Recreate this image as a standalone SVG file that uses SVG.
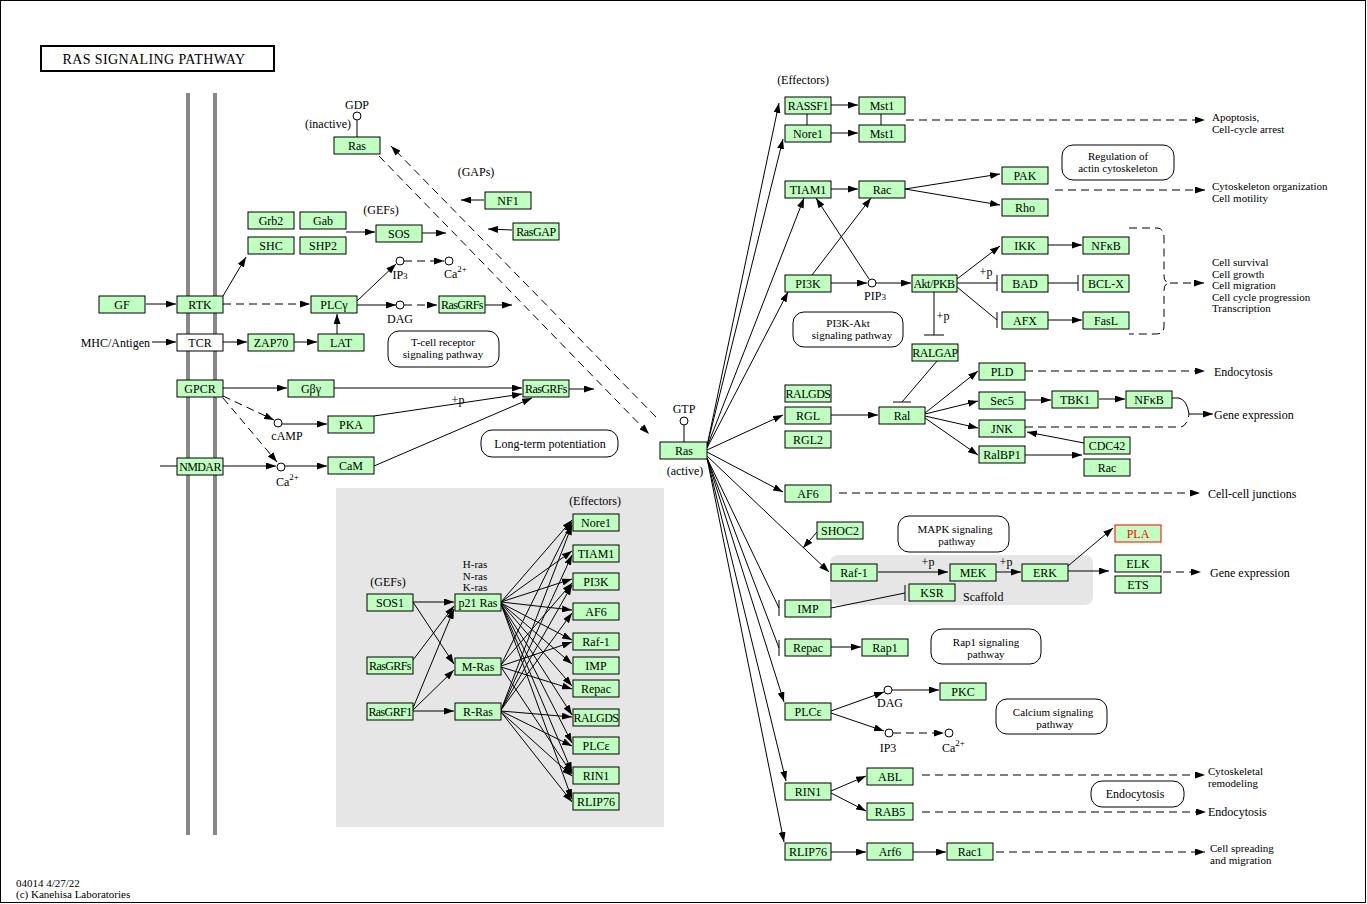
<svg xmlns="http://www.w3.org/2000/svg" width="1367" height="904" viewBox="0 0 1367 904">
<style>
text{font-family:"Liberation Serif","DejaVu Serif",serif;font-size:12px;fill:#000}
.n rect{fill:#bfffbf;stroke:#000;stroke-width:1}
.n text{text-anchor:middle}
.w rect{fill:#fff;stroke:#000}
.m{text-anchor:middle}
.s{font-size:11px}
.c line,.c path,.c polyline{stroke:#000;stroke-width:1;fill:none}
.d{stroke-dasharray:8,5}
.a{marker-end:url(#ah)}
.p rect{fill:#fff;stroke:#000}
circle{fill:#fff;stroke:#000}
</style>
<defs>
<marker id="ah" viewBox="0 0 10 7" refX="10" refY="3.5" markerWidth="10" markerHeight="7" markerUnits="userSpaceOnUse" orient="auto"><path d="M0,0L10,3.5L0,7z" fill="#000"/></marker>
</defs>
<rect x="0.5" y="0.5" width="1365" height="902" fill="#fff" stroke="#000"/>
<rect x="336" y="488" width="328" height="339" fill="#e6e6e6"/>
<rect x="830" y="555" width="263" height="50" rx="8" fill="#e6e6e6"/>
<rect x="186" y="93" width="4" height="742" fill="#888"/>
<rect x="213" y="93" width="4" height="742" fill="#888"/>
<g id="title"><rect x="41" y="46" width="233" height="25" fill="#fff" stroke="#000" stroke-width="2"/><text x="154" y="64" class="m" style="font-size:14px;letter-spacing:0.4px">RAS SIGNALING PATHWAY</text></g>

<g class="c" id="connectors">
<line class="a" x1="146" y1="304" x2="176" y2="304"/>
<line class="a" x1="223" y1="296" x2="246" y2="257"/>
<line class="a d" x1="223" y1="304" x2="310" y2="304"/>
<line class="a" x1="152" y1="342" x2="176" y2="342"/>
<line class="a" x1="223" y1="342" x2="247" y2="342"/>
<line class="a" x1="294" y1="342" x2="317" y2="342"/>
<line class="a" x1="337" y1="334" x2="337" y2="314"/>
<line class="a" x1="357" y1="301" x2="396" y2="264"/>
<line class="a" x1="357" y1="305" x2="396" y2="305"/>
<line class="a d" x1="404" y1="261" x2="444" y2="261"/>
<line class="a d" x1="404" y1="305" x2="437" y2="305"/>
<line class="a" x1="484" y1="305" x2="512" y2="305"/>
<line class="a" x1="346" y1="232" x2="375" y2="232"/>
<line class="a" x1="421" y1="233" x2="446" y2="233"/>
<line class="a" x1="484" y1="200" x2="461" y2="200"/>
<line class="a" x1="512" y1="230" x2="488" y2="229"/>
<line x1="357" y1="120" x2="357" y2="137"/>
<line class="a d" x1="379" y1="156" x2="649" y2="434"/>
<line class="a d" x1="656" y1="417" x2="391" y2="146"/>
<line class="a" x1="223" y1="388" x2="287" y2="388"/>
<line class="a d" x1="223" y1="396" x2="274" y2="420"/>
<line class="a d" x1="223" y1="398" x2="277" y2="462"/>
<line x1="160" y1="466" x2="177" y2="466"/>
<line class="a" x1="223" y1="466" x2="276" y2="466"/>
<line class="a" x1="282" y1="424" x2="327" y2="424"/>
<line class="a" x1="285" y1="466" x2="327" y2="466"/>
<line class="a" x1="334" y1="388" x2="522" y2="388"/>
<line class="a" x1="374" y1="416" x2="522" y2="394"/>
<line class="a" x1="374" y1="466" x2="532" y2="398"/>
<line class="a" x1="569" y1="389" x2="594" y2="389"/>
<line x1="684" y1="425" x2="684" y2="442"/>
<line class="a" x1="413" y1="602" x2="454" y2="602"/>
<line class="a" x1="413" y1="602" x2="454" y2="664"/>
<line class="a" x1="413" y1="660" x2="454" y2="606"/>
<line class="a" x1="413" y1="708" x2="454" y2="609"/>
<line class="a" x1="413" y1="710" x2="454" y2="670"/>
<line class="a" x1="413" y1="711" x2="454" y2="711"/>
<line class="a" x1="501" y1="602" x2="572" y2="520"/>
<line class="a" x1="501" y1="602" x2="572" y2="551"/>
<line class="a" x1="501" y1="602" x2="572" y2="579"/>
<line class="a" x1="501" y1="602" x2="572" y2="610"/>
<line class="a" x1="501" y1="603" x2="572" y2="640"/>
<line class="a" x1="501" y1="603" x2="572" y2="664"/>
<line class="a" x1="501" y1="603" x2="572" y2="686"/>
<line class="a" x1="501" y1="604" x2="572" y2="715"/>
<line class="a" x1="501" y1="604" x2="572" y2="743"/>
<line class="a" x1="501" y1="604" x2="572" y2="772"/>
<line class="a" x1="501" y1="604" x2="572" y2="799"/>
<line class="a" x1="501" y1="665" x2="572" y2="522"/>
<line class="a" x1="501" y1="665" x2="572" y2="583"/>
<line class="a" x1="501" y1="666" x2="572" y2="642"/>
<line class="a" x1="501" y1="667" x2="572" y2="689"/>
<line class="a" x1="501" y1="667" x2="572" y2="774"/>
<line class="a" x1="501" y1="710" x2="572" y2="525"/>
<line class="a" x1="501" y1="710" x2="572" y2="555"/>
<line class="a" x1="501" y1="710" x2="572" y2="585"/>
<line class="a" x1="501" y1="710" x2="572" y2="613"/>
<line class="a" x1="501" y1="711" x2="572" y2="717"/>
<line class="a" x1="501" y1="711" x2="572" y2="746"/>
<line class="a" x1="501" y1="712" x2="572" y2="776"/>
<line class="a" x1="501" y1="712" x2="572" y2="802"/>
<line class="a" x1="707" y1="446" x2="779" y2="103"/>
<line class="a" x1="707" y1="446" x2="783" y2="139"/>
<line class="a" x1="707" y1="447" x2="804" y2="198"/>
<line class="a" x1="707" y1="448" x2="788" y2="292"/>
<line class="a" x1="707" y1="450" x2="783" y2="415"/>
<line class="a" x1="707" y1="452" x2="783" y2="492"/>
<line class="a" x1="707" y1="456" x2="829" y2="572"/>
<line x1="707" y1="458" x2="779" y2="608"/>
<line x1="779" y1="600" x2="779" y2="616"/>
<line x1="707" y1="458" x2="779" y2="648"/>
<line x1="779" y1="640" x2="779" y2="656"/>
<line class="a" x1="707" y1="458" x2="784" y2="702"/>
<line class="a" x1="707" y1="458" x2="786" y2="781"/>
<line class="a" x1="707" y1="458" x2="784" y2="842"/>
<line class="a" x1="817" y1="532" x2="803" y2="548"/>
<line x1="807" y1="114" x2="807" y2="125"/>
<line x1="881" y1="114" x2="881" y2="125"/>
<line class="a" x1="831" y1="105" x2="858" y2="105"/>
<line class="a" x1="831" y1="133" x2="858" y2="133"/>
<line class="a d" x1="906" y1="120" x2="1205" y2="120"/>
<line class="a" x1="831" y1="189" x2="858" y2="189"/>
<line class="a" x1="905" y1="189" x2="1000" y2="174"/>
<line class="a" x1="905" y1="189" x2="1000" y2="205"/>
<line class="a d" x1="1055" y1="190" x2="1205" y2="190"/>
<line class="a" x1="812" y1="275" x2="871" y2="198"/>
<line class="a" x1="869" y1="279" x2="816" y2="198"/>
<line class="a" x1="831" y1="283" x2="867" y2="283"/>
<line class="a" x1="876" y1="283" x2="911" y2="283"/>
<line class="a" x1="957" y1="279" x2="1000" y2="246"/>
<line x1="957" y1="283" x2="997" y2="283"/>
<line x1="997" y1="275" x2="997" y2="291"/>
<line x1="957" y1="287" x2="997" y2="320"/>
<line x1="997" y1="312" x2="997" y2="328"/>
<line class="a" x1="1048" y1="245" x2="1082" y2="245"/>
<line x1="1048" y1="283" x2="1078" y2="283"/>
<line x1="1078" y1="275" x2="1078" y2="291"/>
<line class="a" x1="1048" y1="320" x2="1082" y2="320"/>
<path class="d" d="M1129,228H1158Q1164,229 1164,238V276Q1164,282 1169,283Q1164,284 1164,290V326Q1164,334 1156,334H1129"/>
<line class="a d" x1="1170" y1="283" x2="1204" y2="283"/>
<line x1="934" y1="291" x2="934" y2="335"/>
<line x1="924" y1="335" x2="944" y2="335"/>
<line x1="937" y1="361" x2="902" y2="402"/>
<line x1="893" y1="402" x2="911" y2="402"/>
<line class="a" x1="831" y1="415" x2="878" y2="415"/>
<line class="a" x1="925" y1="413" x2="978" y2="371"/>
<line class="a" x1="925" y1="414" x2="978" y2="401"/>
<line class="a" x1="925" y1="416" x2="978" y2="428"/>
<line class="a" x1="925" y1="418" x2="978" y2="455"/>
<line class="a d" x1="1025" y1="371" x2="1205" y2="371"/>
<line class="a" x1="1025" y1="400" x2="1051" y2="400"/>
<line class="a" x1="1099" y1="399" x2="1125" y2="399"/>
<path d="M1172,398H1179Q1187,400 1189,414"/>
<path class="d" d="M1025,427H1181Q1187,426 1189,414"/>
<line class="a" x1="1189" y1="414" x2="1213" y2="414"/>
<line class="a" x1="1084" y1="443" x2="1027" y2="432"/>
<line class="a" x1="1025" y1="455" x2="1082" y2="455"/>
<line class="a d" x1="839" y1="493" x2="1200" y2="493"/>
<line class="a" x1="878" y1="572" x2="948" y2="572"/>
<line class="a" x1="996" y1="572" x2="1021" y2="572"/>
<line class="a" x1="1068" y1="566" x2="1113" y2="528"/>
<line class="a" x1="1068" y1="571" x2="1109" y2="571"/>
<line class="a d" x1="1163" y1="572" x2="1201" y2="572"/>
<line x1="831" y1="608" x2="905" y2="593"/>
<line x1="905" y1="585" x2="905" y2="601"/>
<line class="a" x1="831" y1="647" x2="861" y2="647"/>
<line class="a" x1="831" y1="711" x2="884" y2="692"/>
<line class="a" x1="892" y1="690" x2="939" y2="690"/>
<line class="a" x1="831" y1="713" x2="884" y2="731"/>
<line class="a d" x1="893" y1="733" x2="944" y2="733"/>
<line class="a" x1="831" y1="791" x2="866" y2="776"/>
<line class="a" x1="831" y1="793" x2="866" y2="811"/>
<line class="a d" x1="922" y1="775" x2="1205" y2="775"/>
<line class="a d" x1="922" y1="812" x2="1206" y2="812"/>
<line class="a" x1="831" y1="852" x2="866" y2="852"/>
<line class="a" x1="913" y1="852" x2="946" y2="852"/>
<line class="a d" x1="996" y1="852" x2="1205" y2="852"/>
</g>

<g id="grb2" class="n"><rect x="248" y="212" width="46" height="17"/><text x="271" y="225">Grb2</text></g>
<g id="gab" class="n"><rect x="300" y="212" width="46" height="17"/><text x="323" y="225">Gab</text></g>
<g id="shc" class="n"><rect x="248" y="237" width="46" height="17"/><text x="271" y="250">SHC</text></g>
<g id="shp2" class="n"><rect x="300" y="237" width="46" height="17"/><text x="323" y="250">SHP2</text></g>
<g id="gf" class="n"><rect x="99" y="296" width="46" height="17"/><text x="122" y="309">GF</text></g>
<g id="rtk" class="n"><rect x="177" y="296" width="46" height="17"/><text x="200" y="309">RTK</text></g>
<g id="tcr" class="w"><rect x="177" y="334" width="46" height="17"/><text x="200" y="347" class="m">TCR</text></g>
<g id="zap70" class="n"><rect x="248" y="334" width="46" height="17"/><text x="271" y="347">ZAP70</text></g>
<g id="lat" class="n"><rect x="318" y="334" width="46" height="17"/><text x="341" y="347">LAT</text></g>
<g id="plcg" class="n"><rect x="311" y="296" width="46" height="17"/><text x="334" y="309">PLCγ</text></g>
<g id="gpcr" class="n"><rect x="177" y="380" width="46" height="17"/><text x="200" y="393">GPCR</text></g>
<g id="gbg" class="n"><rect x="288" y="380" width="46" height="17"/><text x="311" y="393">Gβγ</text></g>
<g id="pka" class="n"><rect x="328" y="416" width="46" height="17"/><text x="351" y="429">PKA</text></g>
<g id="nmdar" class="n"><rect x="177" y="458" width="46" height="17"/><text x="200" y="471" style="letter-spacing:-0.6px">NMDAR</text></g>
<g id="cam" class="n"><rect x="328" y="457" width="46" height="17"/><text x="351" y="470">CaM</text></g>
<g id="ras-inactive" class="n"><rect x="334" y="137" width="46" height="17"/><text x="357" y="150">Ras</text></g>
<g id="nf1" class="n"><rect x="485" y="192" width="46" height="17"/><text x="508" y="205">NF1</text></g>
<g id="rasgap" class="n"><rect x="513" y="223" width="46" height="17"/><text x="536" y="236" style="letter-spacing:-0.4px">RasGAP</text></g>
<g id="sos" class="n"><rect x="376" y="225" width="46" height="17"/><text x="399" y="238">SOS</text></g>
<g id="rasgrfs1" class="n"><rect x="439" y="296" width="46" height="17"/><text x="462" y="309" style="letter-spacing:-0.6px">RasGRFs</text></g>
<g id="rasgrfs2" class="n"><rect x="523" y="380" width="46" height="17"/><text x="546" y="393" style="letter-spacing:-0.6px">RasGRFs</text></g>
<g id="ras-active" class="n"><rect x="660" y="442" width="47" height="17"/><text x="684" y="455">Ras</text></g>
<g id="circles">
<circle cx="357" cy="116" r="4"/><circle cx="400" cy="261" r="4"/><circle cx="449" cy="261" r="4"/><circle cx="400" cy="305" r="4"/>
<circle cx="278" cy="423" r="4"/><circle cx="281" cy="467" r="4"/><circle cx="684" cy="421" r="4"/><circle cx="872" cy="283" r="4"/>
<circle cx="888" cy="690" r="4"/><circle cx="889" cy="733" r="4"/><circle cx="949" cy="733" r="4"/>
</g>
<g id="labels-left">
<text x="357" y="109" class="m">GDP</text>
<text x="328" y="128" class="m">(inactive)</text>
<text x="476" y="176" class="m">(GAPs)</text>
<text x="381" y="214" class="m">(GEFs)</text>
<text x="400" y="279" class="m">IP<tspan style="font-size:9px">3</tspan></text>
<text x="444" y="278">Ca<tspan dy="-6" style="font-size:9px">2+</tspan></text>
<text x="400" y="323" class="m">DAG</text>
<text x="150" y="347" style="text-anchor:end">MHC/Antigen</text>
<text x="287" y="440" class="m">cAMP</text>
<text x="276" y="486">Ca<tspan dy="-6" style="font-size:9px">2+</tspan></text>
<text x="458" y="404" class="m">+p</text>
<text x="684" y="413" class="m">GTP</text>
<text x="685" y="475" class="m">(active)</text>
</g>
<g id="tcr-pathway" class="p"><rect x="388" y="331" width="111" height="36" rx="11"/><text x="443" y="346" class="m s">T-cell receptor</text><text x="443" y="358" class="m s">signaling pathway</text></g>
<g id="ltp" class="p"><rect x="481" y="430" width="137" height="27" rx="11"/><text x="550" y="448" class="m">Long-term potentiation</text></g>

<g id="gb-labels">
<text x="595" y="505" class="m">(Effectors)</text>
<text x="388" y="586" class="m">(GEFs)</text>
<text x="475" y="568" class="m s">H-ras</text>
<text x="475" y="579.5" class="m s">N-ras</text>
<text x="475" y="591" class="m s">K-ras</text>
</g>
<g id="sos1" class="n"><rect x="367" y="594" width="46" height="17"/><text x="390" y="607">SOS1</text></g>
<g id="rasgrfs3" class="n"><rect x="367" y="657" width="46" height="17"/><text x="390" y="670" style="letter-spacing:-0.6px">RasGRFs</text></g>
<g id="rasgrf1" class="n"><rect x="367" y="703" width="46" height="17"/><text x="390" y="716" style="letter-spacing:-0.6px">RasGRF1</text></g>
<g id="p21ras" class="n"><rect x="455" y="594" width="46" height="17"/><text x="478" y="607">p21 Ras</text></g>
<g id="mras" class="n"><rect x="455" y="658" width="46" height="17"/><text x="478" y="671">M-Ras</text></g>
<g id="rras" class="n"><rect x="455" y="703" width="46" height="17"/><text x="478" y="716">R-Ras</text></g>
<g id="e-nore1" class="n"><rect x="573" y="514" width="46" height="17"/><text x="596" y="527">Nore1</text></g>
<g id="e-tiam1" class="n"><rect x="573" y="545" width="46" height="17"/><text x="596" y="558">TIAM1</text></g>
<g id="e-pi3k" class="n"><rect x="573" y="573" width="46" height="17"/><text x="596" y="586">PI3K</text></g>
<g id="e-af6" class="n"><rect x="573" y="603" width="46" height="17"/><text x="596" y="616">AF6</text></g>
<g id="e-raf1" class="n"><rect x="573" y="633" width="46" height="17"/><text x="596" y="646">Raf-1</text></g>
<g id="e-imp" class="n"><rect x="573" y="657" width="46" height="17"/><text x="596" y="670">IMP</text></g>
<g id="e-repac" class="n"><rect x="573" y="680" width="46" height="17"/><text x="596" y="693">Repac</text></g>
<g id="e-ralgds" class="n"><rect x="573" y="709" width="46" height="17"/><text x="596" y="722" style="letter-spacing:-0.5px">RALGDS</text></g>
<g id="e-plce" class="n"><rect x="573" y="737" width="46" height="17"/><text x="596" y="750">PLCε</text></g>
<g id="e-rin1" class="n"><rect x="573" y="767" width="46" height="17"/><text x="596" y="780">RIN1</text></g>
<g id="e-rlip76" class="n"><rect x="573" y="793" width="46" height="17"/><text x="596" y="806">RLIP76</text></g>

<text x="803" y="84" class="m">(Effectors)</text>
<g id="rassf1" class="n"><rect x="785" y="97" width="46" height="17"/><text x="808" y="110" style="letter-spacing:-0.4px">RASSF1</text></g>
<g id="mst1a" class="n"><rect x="859" y="97" width="46" height="17"/><text x="882" y="110">Mst1</text></g>
<g id="nore1" class="n"><rect x="785" y="125" width="46" height="17"/><text x="808" y="138">Nore1</text></g>
<g id="mst1b" class="n"><rect x="859" y="125" width="46" height="17"/><text x="882" y="138">Mst1</text></g>
<g id="tiam1" class="n"><rect x="785" y="181" width="46" height="17"/><text x="808" y="194">TIAM1</text></g>
<g id="rac" class="n"><rect x="859" y="181" width="46" height="17"/><text x="882" y="194">Rac</text></g>
<g id="pak" class="n"><rect x="1002" y="167" width="46" height="17"/><text x="1025" y="180">PAK</text></g>
<g id="rho" class="n"><rect x="1002" y="199" width="46" height="17"/><text x="1025" y="212">Rho</text></g>
<g id="pi3k" class="n"><rect x="785" y="275" width="46" height="17"/><text x="808" y="288">PI3K</text></g>
<g id="akt" class="n"><rect x="912" y="275" width="45" height="17"/><text x="934" y="288" style="letter-spacing:-0.5px">Akt/PKB</text></g>
<g id="ikk" class="n"><rect x="1002" y="237" width="46" height="17"/><text x="1025" y="250">IKK</text></g>
<g id="nfkb1" class="n"><rect x="1083" y="237" width="46" height="17"/><text x="1106" y="250">NFκB</text></g>
<g id="bad" class="n"><rect x="1002" y="275" width="46" height="17"/><text x="1025" y="288">BAD</text></g>
<g id="bclx" class="n"><rect x="1083" y="275" width="46" height="17"/><text x="1106" y="288">BCL-X</text></g>
<g id="afx" class="n"><rect x="1002" y="312" width="46" height="17"/><text x="1025" y="325">AFX</text></g>
<g id="fasl" class="n"><rect x="1083" y="312" width="46" height="17"/><text x="1106" y="325">FasL</text></g>
<g id="ralgap" class="n"><rect x="912" y="344" width="46" height="17"/><text x="935" y="357" style="letter-spacing:-0.4px">RALGAP</text></g>
<g id="ralgds" class="n"><rect x="785" y="385" width="46" height="17"/><text x="808" y="398" style="letter-spacing:-0.5px">RALGDS</text></g>
<g id="rgl" class="n"><rect x="785" y="407" width="46" height="17"/><text x="808" y="420">RGL</text></g>
<g id="rgl2" class="n"><rect x="785" y="431" width="46" height="17"/><text x="808" y="444">RGL2</text></g>
<g id="ral" class="n"><rect x="879" y="407" width="46" height="17"/><text x="902" y="420">Ral</text></g>
<g id="pld" class="n"><rect x="979" y="363" width="46" height="17"/><text x="1002" y="376">PLD</text></g>
<g id="sec5" class="n"><rect x="979" y="392" width="46" height="17"/><text x="1002" y="405">Sec5</text></g>
<g id="jnk" class="n"><rect x="979" y="420" width="46" height="17"/><text x="1002" y="433">JNK</text></g>
<g id="ralbp1" class="n"><rect x="979" y="446" width="46" height="17"/><text x="1002" y="459">RalBP1</text></g>
<g id="tbk1" class="n"><rect x="1052" y="391" width="46" height="17"/><text x="1075" y="404">TBK1</text></g>
<g id="nfkb2" class="n"><rect x="1126" y="391" width="46" height="17"/><text x="1149" y="404">NFκB</text></g>
<g id="cdc42" class="n"><rect x="1084" y="437" width="46" height="17"/><text x="1107" y="450">CDC42</text></g>
<g id="rac2" class="n"><rect x="1084" y="459" width="46" height="17"/><text x="1107" y="472">Rac</text></g>
<g id="af6" class="n"><rect x="785" y="485" width="46" height="17"/><text x="808" y="498">AF6</text></g>
<g id="shoc2" class="n"><rect x="817" y="522" width="46" height="17"/><text x="840" y="535">SHOC2</text></g>
<g id="raf1" class="n"><rect x="831" y="564" width="46" height="17"/><text x="854" y="577">Raf-1</text></g>
<g id="mek" class="n"><rect x="950" y="564" width="46" height="17"/><text x="973" y="577">MEK</text></g>
<g id="erk" class="n"><rect x="1022" y="564" width="46" height="17"/><text x="1045" y="577">ERK</text></g>
<g id="ksr" class="n"><rect x="909" y="584" width="46" height="17"/><text x="932" y="597">KSR</text></g>
<g id="pla" class="n"><rect x="1115" y="525" width="46" height="17" style="stroke:#f00"/><text x="1138" y="538" style="fill:#f00">PLA</text></g>
<g id="elk" class="n"><rect x="1115" y="555" width="46" height="17"/><text x="1138" y="568">ELK</text></g>
<g id="ets" class="n"><rect x="1115" y="576" width="46" height="17"/><text x="1138" y="589">ETS</text></g>
<g id="imp" class="n"><rect x="785" y="600" width="46" height="17"/><text x="808" y="613">IMP</text></g>
<g id="repac" class="n"><rect x="785" y="639" width="46" height="17"/><text x="808" y="652">Repac</text></g>
<g id="rap1" class="n"><rect x="862" y="639" width="46" height="17"/><text x="885" y="652">Rap1</text></g>
<g id="pkc" class="n"><rect x="940" y="683" width="46" height="17"/><text x="963" y="696">PKC</text></g>
<g id="plce" class="n"><rect x="785" y="703" width="46" height="17"/><text x="808" y="716">PLCε</text></g>
<g id="rin1" class="n"><rect x="785" y="783" width="46" height="17"/><text x="808" y="796">RIN1</text></g>
<g id="abl" class="n"><rect x="867" y="768" width="46" height="17"/><text x="890" y="781">ABL</text></g>
<g id="rab5" class="n"><rect x="867" y="803" width="46" height="17"/><text x="890" y="816">RAB5</text></g>
<g id="rlip76" class="n"><rect x="785" y="843" width="46" height="17"/><text x="808" y="856">RLIP76</text></g>
<g id="arf6" class="n"><rect x="867" y="843" width="46" height="17"/><text x="890" y="856">Arf6</text></g>
<g id="rac1" class="n"><rect x="947" y="843" width="46" height="17"/><text x="970" y="856">Rac1</text></g>

<g id="pathways" class="p">
<rect x="1062" y="145" width="112" height="35" rx="11"/><text x="1118" y="160" class="m s">Regulation of</text><text x="1118" y="172" class="m s">actin cytoskeleton</text>
<rect x="793" y="312" width="110" height="35" rx="11"/><text x="848" y="327" class="m s">PI3K-Akt</text><text x="852" y="339" class="m s">signaling pathway</text>
<rect x="898" y="516" width="111" height="36" rx="11"/><text x="955" y="533" class="m s">MAPK signaling</text><text x="957" y="545" class="m s">pathway</text>
<rect x="931" y="629" width="110" height="35" rx="11"/><text x="986" y="646" class="m s">Rap1 signaling</text><text x="986" y="658" class="m s">pathway</text>
<rect x="996" y="699" width="111" height="35" rx="11"/><text x="1053" y="716" class="m s">Calcium signaling</text><text x="1055" y="728" class="m s">pathway</text>
<rect x="1091" y="781" width="93" height="26" rx="11"/><text x="1135" y="798" class="m">Endocytosis</text>
</g>
<g id="labels-right">
<text x="875" y="300" class="m">PIP<tspan style="font-size:9px">3</tspan></text>
<text x="986" y="276" class="m">+p</text>
<text x="943" y="320" class="m">+p</text>
<text x="928" y="566" class="m">+p</text>
<text x="1006" y="566" class="m">+p</text>
<text x="963" y="601">Scaffold</text>
<text x="890" y="707" class="m">DAG</text>
<text x="888" y="752" class="m">IP3</text>
<text x="942" y="752">Ca<tspan dy="-6" style="font-size:9px">2+</tspan></text>
<text x="1212" y="121" class="s">Apoptosis,</text>
<text x="1212" y="133" class="s">Cell-cycle arrest</text>
<text x="1212" y="190" class="s">Cytoskeleton organization</text>
<text x="1212" y="202" class="s">Cell motility</text>
<text x="1212" y="266" class="s">Cell survival</text>
<text x="1212" y="277.5" class="s">Cell growth</text>
<text x="1212" y="289" class="s">Cell migration</text>
<text x="1212" y="300.5" class="s">Cell cycle progression</text>
<text x="1212" y="312" class="s">Transcription</text>
<text x="1214" y="376">Endocytosis</text>
<text x="1214" y="419">Gene expression</text>
<text x="1208" y="498">Cell-cell junctions</text>
<text x="1210" y="577">Gene expression</text>
<text x="1208" y="775" class="s">Cytoskeletal</text>
<text x="1208" y="787" class="s">remodeling</text>
<text x="1208" y="816">Endocytosis</text>
<text x="1210" y="852" class="s">Cell spreading</text>
<text x="1210" y="864" class="s">and migration</text>
</g>
<g id="footer"><text x="16" y="887" class="s">04014 4/27/22</text><text x="16" y="898" class="s">(c) Kanehisa Laboratories</text></g>
</svg>
